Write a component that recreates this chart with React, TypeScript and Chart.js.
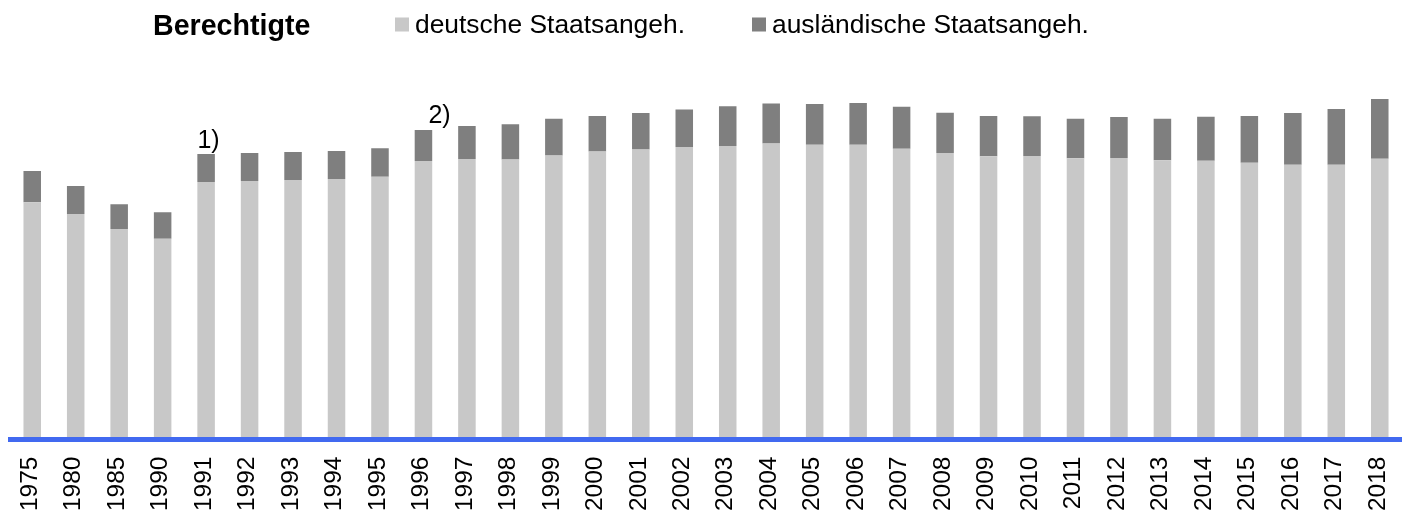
import React, { useEffect, useRef } from 'react';
import { Chart, registerables } from 'chart.js';

Chart.register(...registerables);

const FONT = "'Liberation Sans', Arial, Helvetica, sans-serif";

const categories = [
  '1975', '1980', '1985', '1990', '1991', '1992', '1993', '1994', '1995', '1996', '1997',
  '1998', '1999', '2000', '2001', '2002', '2003', '2004', '2005', '2006', '2007', '2008',
  '2009', '2010', '2011', '2012', '2013', '2014', '2015', '2016', '2017', '2018',
];

const seriesLabels = ['deutsche Staatsangeh.', 'ausländische Staatsangeh.'];
const legendTitle = 'Berechtigte';

const deutsche = [
  59.3, 56.4, 52.6, 50.2, 64.4, 64.6, 64.9, 65.1, 65.7, 69.6, 70.1,
  70.0, 71.0, 72.0, 72.5, 73.1, 73.4, 74.0, 73.7, 73.7, 72.7, 71.6,
  70.8, 70.9, 70.3, 70.4, 69.8, 69.7, 69.2, 68.7, 68.7, 70.2,
];

const auslaender = [
  7.8, 7.0, 6.2, 6.6, 7.0, 7.0, 7.0, 7.0, 7.1, 7.8, 8.3,
  8.8, 9.2, 8.9, 9.1, 9.4, 9.9, 10.0, 10.2, 10.4, 10.5, 10.1,
  10.1, 9.9, 9.9, 10.2, 10.4, 11.0, 11.7, 12.9, 13.9, 14.9,
];

const noteTexts = ['1)', '2)'];
const noteCategories = ['1991', '1996'];

// styles
const LIGHT = '#C8C8C8';
const DARK = '#7F7F7F';
const BLUE = '#4169F0';
const noteDx = [-8.7, 5];
const noteDy = [6.3, 6.7];

const legendPlugin = {
  id: 'customLegend',
  afterDraw(chart: any) {
    const ctx = chart.ctx;
    ctx.save();
    ctx.fillStyle = '#000';
    ctx.textBaseline = 'alphabetic';
    ctx.textAlign = 'left';
    ctx.font = `bold 28.6px ${FONT}`;
    ctx.fillText(legendTitle, 153, 35);
    const items = [
      { sx: 395, tx: 415 },
      { sx: 752, tx: 772 },
    ];
    chart.data.datasets.forEach((ds: any, i: number) => {
      const it = items[i];
      ctx.fillStyle = ds.backgroundColor;
      ctx.fillRect(it.sx, 17.5, 14, 14);
      ctx.fillStyle = '#000';
      ctx.font = `26.4px ${FONT}`;
      ctx.fillText(ds.label, it.tx, 33);
    });
    ctx.restore();
  },
};

const notesPlugin = {
  id: 'notes',
  afterDatasetsDraw(chart: any) {
    const ctx = chart.ctx;
    const meta = chart.getDatasetMeta(chart.data.datasets.length - 1);
    ctx.save();
    ctx.fillStyle = '#000';
    ctx.font = `25px ${FONT}`;
    ctx.textAlign = 'left';
    ctx.textBaseline = 'alphabetic';
    noteTexts.forEach((t, i) => {
      const idx = categories.indexOf(noteCategories[i]);
      const el = meta.data[idx];
      if (!el) return;
      ctx.fillText(t, el.x + noteDx[i], el.y - noteDy[i]);
    });
    ctx.restore();
  },
};

export default function App() {
  const ref = useRef<HTMLCanvasElement>(null);
  useEffect(() => {
    const chart = new Chart(ref.current as HTMLCanvasElement, {
      type: 'bar',
      data: {
        labels: categories,
        datasets: [
          { label: seriesLabels[0], data: deutsche, backgroundColor: LIGHT, stack: 's' },
          { label: seriesLabels[1], data: auslaender, backgroundColor: DARK, stack: 's' },
        ],
      },
      options: {
        responsive: false,
        animation: false,
        layout: { padding: { left: 10.5, right: 3.5, top: 39.5, bottom: 0 } },
        datasets: { bar: { barPercentage: 0.403, categoryPercentage: 1 } },
        plugins: { legend: { display: false }, tooltip: { enabled: false } },
        scales: {
          x: {
            stacked: true,
            grid: { display: false, drawTicks: false },
            border: { display: true, color: BLUE, width: 5, z: 1 },
            ticks: {
              minRotation: 90,
              maxRotation: 90,
              autoSkip: false,
              padding: 17,
              labelOffset: -2,
              color: '#000',
              font: { family: FONT, size: 24.5 },
            },
            afterFit: (s: any) => {
              s.height = 75.5;
              s.paddingLeft = 0;
              s.paddingRight = 0;
            },
          },
          y: { stacked: true, display: false, min: 0, max: 100 },
        },
      } as any,
      plugins: [legendPlugin, notesPlugin],
    });
    return () => chart.destroy();
  }, []);
  return (
    <div style={{ position: 'fixed', left: 0, top: 0, width: 1405, height: 515, background: '#fff' }}>
      <canvas ref={ref} width={1405} height={515} style={{ display: 'block', width: 1405, height: 515 }} />
    </div>
  );
}
